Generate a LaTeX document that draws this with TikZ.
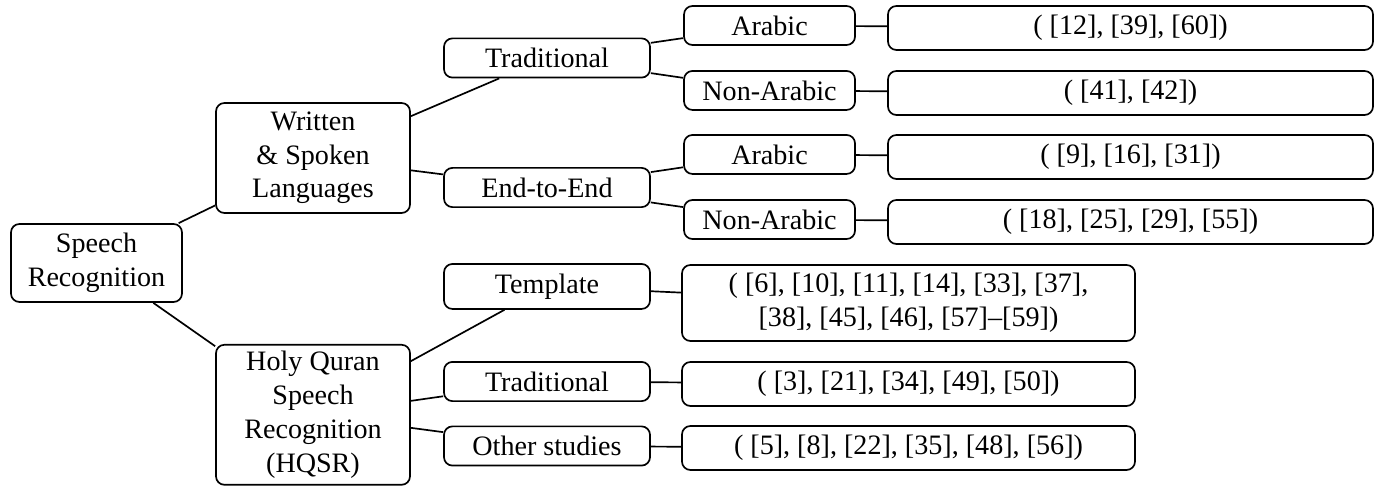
\documentclass[tikz,border=0pt]{standalone}
\usepackage{fontspec}
\setmainfont{Liberation Serif}

\tikzset{
    box/.style={draw, rounded corners=3pt, line width=0.6pt, align=center, inner sep=1pt},
    midbox/.style={box, minimum width=2.575cm, minimum height=0.49cm},
    leafbox/.style={box, minimum width=2.1375cm, minimum height=0.4875cm},
    refbox/.style={box, minimum width=6.0625cm, minimum height=0.55cm},
    hqrefbox/.style={box, minimum width=5.6625cm, minimum height=0.55cm},
    link/.style={line width=0.6pt}
}

\begin{document}
\begin{tikzpicture}
    \useasboundingbox (0,0) rectangle (17.275,6.075);

    % Root
    \node[box, minimum width=2.1375cm, minimum height=0.975cm] (sr) at (1.206,2.7875) {Speech\\Recognition};

    % Main branches
    \node[box, minimum width=2.425cm, minimum height=1.375cm] (wsl) at (3.9125,4.1) {Written\\\& Spoken\\Languages};
    \node[box, minimum width=2.425cm, minimum height=1.75cm] (hq) at (3.9125,0.89) {Holy Quran\\Speech\\Recognition\\(HQSR)};

    % Written & Spoken Languages
    \node[midbox] (trad) at (6.8375,5.35) {Traditional};
    \node[midbox] (e2e) at (6.8375,3.731) {End-to-End};
    \node[leafbox] (tar) at (9.619,5.756) {Arabic};
    \node[leafbox] (tnar) at (9.619,4.944) {Non-Arabic};
    \node[leafbox] (ear) at (9.619,4.144) {Arabic};
    \node[leafbox] (enar) at (9.619,3.331) {Non-Arabic};
    \node[refbox] (tarref) at (14.131,5.725) {( [12], [39], [60])};
    \node[refbox] (tnarref) at (14.131,4.9125) {( [41], [42])};
    \node[refbox] (earref) at (14.131,4.1125) {( [9], [16], [31])};
    \node[refbox] (enarref) at (14.131,3.3) {( [18], [25], [29], [55])};

    % HQSR
    \node[midbox, minimum height=0.5625cm] (tmpl) at (6.8375,2.494) {Template};
    \node[midbox] (hqtrad) at (6.8375,1.306) {Traditional};
    \node[midbox] (other) at (6.8375,0.5) {Other studies};
    \node[hqrefbox, minimum height=0.95cm] (tmplref) at (11.356,2.2875) {( [6], [10], [11], [14], [33], [37],\\{}[38], [45], [46], [57]--[59])};
    \node[hqrefbox] (hqtradref) at (11.356,1.275) {( [3], [21], [34], [49], [50])};
    \node[hqrefbox] (otherref) at (11.356,0.475) {( [5], [8], [22], [35], [48], [56])};

    % Links
    \draw[link] (sr) -- (wsl);
    \draw[link] (sr) -- (hq);
    \draw[link] (wsl) -- (trad);
    \draw[link] (wsl) -- (e2e);
    \draw[link] (trad) -- (tar);
    \draw[link] (trad) -- (tnar);
    \draw[link] (e2e) -- (ear);
    \draw[link] (e2e) -- (enar);
    \draw[link] (tar) -- (tarref);
    \draw[link] (tnar) -- (tnarref);
    \draw[link] (ear) -- (earref);
    \draw[link] (enar) -- (enarref);
    \draw[link] (hq) -- (tmpl);
    \draw[link] (hq) -- (hqtrad);
    \draw[link] (hq) -- (other);
    \draw[link] (tmpl) -- (tmplref);
    \draw[link] (hqtrad) -- (hqtradref);
    \draw[link] (other) -- (otherref);
\end{tikzpicture}
\end{document}
